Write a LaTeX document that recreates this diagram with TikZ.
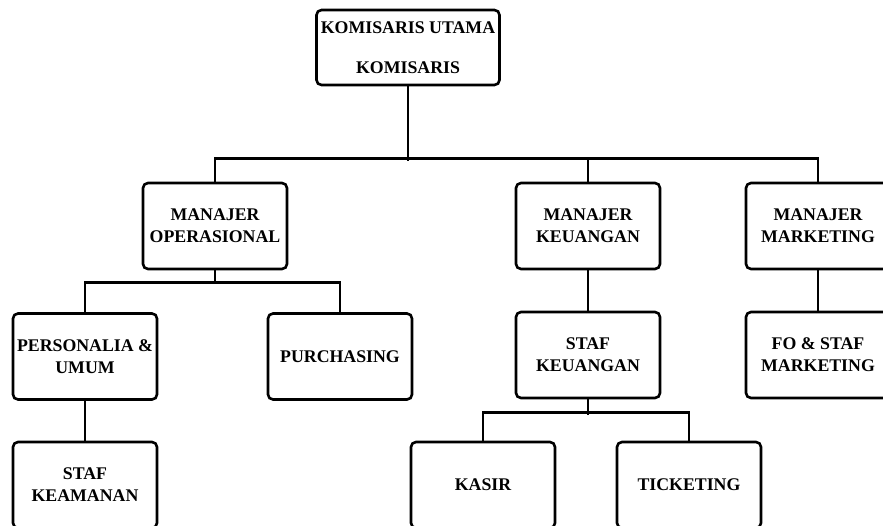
\documentclass[tikz,border=0pt]{standalone}
\usepackage{fontspec}
\setmainfont{Liberation Serif}

\begin{document}
\begin{tikzpicture}[x=1pt, y=-1pt, line width=2.6pt,
    jabatan/.style={draw, rounded corners=5pt, minimum width=144pt, minimum height=86pt,
        align=center, inner sep=2pt, font=\fontsize{17.8}{22}\selectfont\bfseries}]
    \clip (0,0) rectangle (883,525);
    \node[jabatan, minimum width=183pt, minimum height=75pt] (kom) at (408,47.5) {KOMISARIS UTAMA\\[18pt]KOMISARIS};
    \node[jabatan] (mops) at (215,226) {MANAJER\\OPERASIONAL};
    \node[jabatan] (mkeu) at (588,226) {MANAJER\\KEUANGAN};
    \node[jabatan] (mmkt) at (818,226) {MANAJER\\MARKETING};
    \node[jabatan] (pers) at (85,356.5) {PERSONALIA \&\\UMUM};
    \node[jabatan] (purch) at (340,356.5) {PURCHASING};
    \node[jabatan] (skeu) at (588,355) {STAF\\KEUANGAN};
    \node[jabatan] (fostaf) at (818,355) {FO \& STAF\\MARKETING};
    \node[jabatan] (keam) at (85,485) {STAF\\KEAMANAN};
    \node[jabatan] (kasir) at (483,485) {KASIR};
    \node[jabatan] (ticket) at (689,485) {TICKETING};
    \draw (kom.south) -- ++(0,75);
    \draw (mops.north) -- ++(0,-23) -| (mmkt.north);
    \draw (mkeu.north) -- ++(0,-23);
    \draw (mops.south) -- ++(0,14);
    \draw (pers.north) -- ++(0,-30) -| (purch.north);
    \draw (pers) -- (keam);
    \draw (mkeu) -- (skeu);
    \draw (mmkt) -- (fostaf);
    \draw (skeu.south) -- ++(0,16);
    \draw (kasir.north) -- ++(0,-28) -| (ticket.north);
\end{tikzpicture}
\end{document}
